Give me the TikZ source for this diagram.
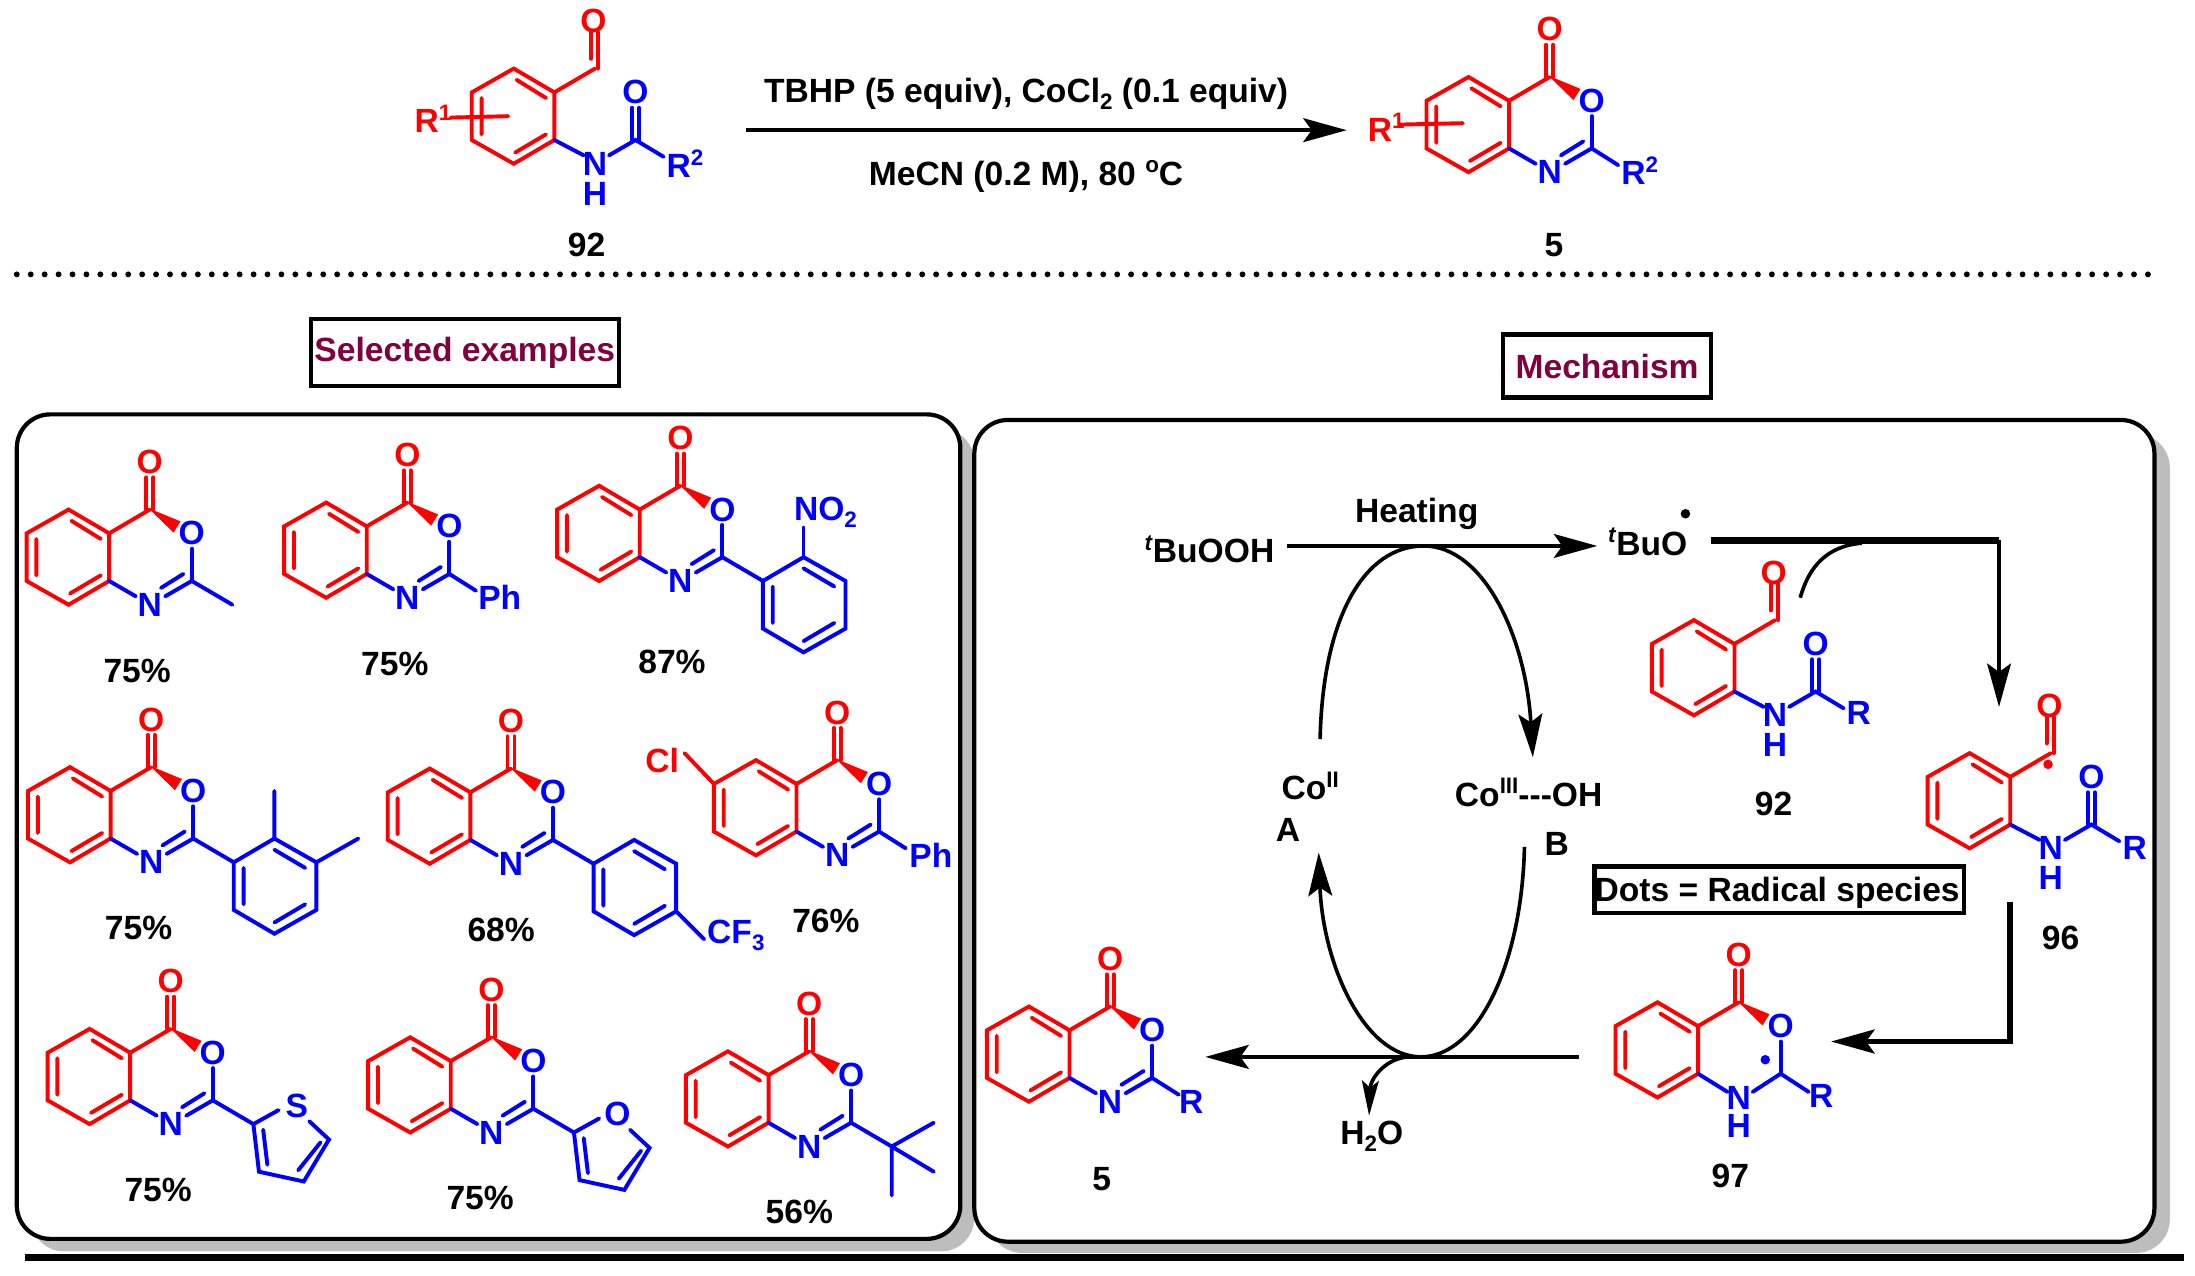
\documentclass[tikz,border=0pt]{standalone}
\usepackage{fontspec}
\setmainfont{Liberation Sans}
\usetikzlibrary{arrows.meta}
\definecolor{maroon1}{HTML}{800040}
\definecolor{shade1}{HTML}{BDBDBD}
\newcommand{\sups}[1]{\raisebox{9pt}{\fontsize{16}{16}\selectfont #1}}
\newcommand{\subsc}[1]{\raisebox{-5pt}{\fontsize{16}{16}\selectfont #1}}
\tikzset{
  rb/.style={draw=red,line width=2.8pt,line join=miter,line cap=round},
  bb/.style={draw=blue,line width=2.8pt,line join=miter,line cap=round},
  lab/.style={inner sep=0pt,font=\fontsize{24}{27}\selectfont\bfseries,text=black},
  rl/.style={lab,text=red},
  bl/.style={lab,text=blue},
  ah/.style={-{Stealth[length=31pt,width=17pt,inset=6pt]}},
  ahs/.style={-{Stealth[length=25pt,width=12pt,inset=5pt]}},
  panel/.style={draw=black,fill=white,line width=3pt,rounded corners=24pt},
  tag/.style={draw=black,line width=3pt,fill=white,inner sep=0pt}
}
\newcommand{\bicycle}[1]{%
  \draw[rb] (0,0)--(-29,-17)--(-59,0)--(-59,34)--(-29,51)--(0,34)--cycle;
  \draw[rb] (-27,-9)--(-6,4) (-6,30)--(-28,43) (-52,4)--(-52,30);
  \draw[rb] (0,0)--(29,-17);
  \fill[red] (28,-18)--(46,-0.5)--(51,-8.5)--cycle;
  \draw[rb] (26.5,-17)--(26.5,-40) (31.5,-17)--(31.5,-40);
  \node[rl] (#1co) at (29,-51) {O};
  \node[bl] (#1o) at (59,0) {O};
  \draw[bb] (59,11)--(59,34);
}
\newcommand{\imine}[1]{%
  \draw[bb] (0,34)--(19,45) (59,34)--(40,45) (53,29)--(37,39);
  \node[bl] (#1n) at (29,51) {N};
}
\newcommand{\mol}[3]{\begin{scope}[shift={(#1,#2)}]\bicycle{#3}\imine{#3}}
\newcommand{\aryl}{%
  \draw[bb] (59,34)--(88,51)--(117,34)--(147,51)--(147,85)--(117,102)--(88,85)--(88,51);
  \draw[bb] (95,55)--(95,81) (117,42)--(139,55) (139,81)--(117,94);
}
\newcommand{\fivering}{%
  \draw[bb] (59,34)--(88,51) (88,51)--(106,41) (128,49)--(142,62)--(124,92)--(92,85)--(88,51);
  \draw[bb] (95,55)--(98,80) (136,64)--(120,84);
}
\newcommand{\subst}[5]{%
  \begin{scope}[shift={(#1,#2)}]
  \draw[rb] (0,0)--(-29,-17)--(-59,0)--(-59,34)--(-29,51)--(0,34)--cycle;
  \draw[rb] (-27,-9)--(-6,4) (-6,30)--(-28,43) (-52,4)--(-52,30);
  \draw[rb] (0,0)--(29,-17);
  \draw[rb] (26,-24)--(26,-43) (31,-17)--(31,-43);
  \node[rl] (#3co) at (28,-51) {O};
  \draw[bb] (0,34)--(21,45) (39,45)--(58,34)--(78,46);
  \draw[bb] (55.5,34)--(55.5,11) (60.5,34)--(60.5,11);
  \node[bl] (#3n) at (29,51) {N};
  \node[bl] (#3h) at (29,72.5) {H};
  \node[bl] (#3oo) at (58,0) {O};
  \node[bl,anchor=west] (#3r) at (80,#5) {#4};
  \end{scope}
}
\begin{document}
\begin{tikzpicture}[x=1pt,y=-1pt]
\useasboundingbox (0,0) rectangle (1568,911.5);
\fill[white] (0,0) rectangle (1568,911.5);

% --- top scheme ---
\subst{396}{66}{sa}{R\sups{2}}{51}
\node[rl,anchor=west] (r1a) at (296,85) {R\sups{1}};
\coordinate (r1as) at (322,84);
\coordinate (r1ae) at (363,83);
\draw[rb] (r1as)--(r1ae);
\begin{scope}[shift={(1078,72)}]
  \bicycle{pa}\imine{pa}
  \draw[bb] (59,34)--(78,46);
  \node[bl,anchor=west] (r2p) at (80,50) {R\sups{2}};
  \node[rl,anchor=west] (r1p) at (-101,19) {R\sups{1}};
  \draw[rb] (-78,17)--(-33,16);
\end{scope}
\coordinate (ma) at (533,93);
\coordinate (mb) at (962,93);
\draw[line width=3pt,ah] (ma)--(mb);
\node[lab] (c1) at (733,67) {TBHP (5 equiv), CoCl\subsc{2} (0.1 equiv)};
\node[lab] (c2) at (733,126) {MeCN (0.2 M), 80 \sups{o}C};
\node[lab] (n92) at (419,175) {92};
\node[lab] (n5) at (1110,175) {5};
\coordinate (da) at (12,196);
\coordinate (db) at (1541,196);
\draw[line width=4.2pt,line cap=round,dash pattern=on 0pt off 9.95pt] (da)--(db);

% --- heading boxes ---
\node[tag,minimum width=220pt,minimum height=48pt,text=maroon1,font=\fontsize{24}{27}\selectfont\bfseries] (hs) at (332,252) {Selected examples};
\node[tag,minimum width=149pt,minimum height=45pt,text=maroon1,font=\fontsize{24}{27}\selectfont\bfseries] (hm) at (1148,261.5) {Mechanism};

% --- panels ---
\fill[shade1,rounded corners=24pt] (22,306) rectangle (696,894);
\draw[panel] (12,296) rectangle (686,885);
\fill[shade1,rounded corners=24pt] (706,310) rectangle (1550,895);
\draw[panel] (696,300) rectangle (1539,887);
\coordinate (ba) at (18,898);
\coordinate (bb) at (1560,898);
\draw[line width=5pt] (ba)--(bb);

% --- examples ---
\mol{78}{381}{m1}
  \draw[bb] (59,34)--(88,51);
\end{scope}
\node[lab] (y1) at (98,479) {75\%};

\mol{262}{376}{m2}
  \draw[bb] (59,34)--(78,46);
  \node[bl] (m2s) at (95,51) {Ph};
\end{scope}
\node[lab] (y2) at (282,474) {75\%};

\mol{457}{364}{m3}
  \aryl
  \draw[bb] (117,34)--(117,13);
  \node[bl,anchor=west] (m3s) at (110,2) {NO\subsc{2}};
\end{scope}
\node[lab] (y3) at (480,473) {87\%};

\mol{79}{565}{m4}
  \aryl
  \draw[bb] (117,34)--(117,0) (147,51)--(177,34);
\end{scope}
\node[lab] (y4) at (99,663) {75\%};

\mol{336}{566}{m5}
  \aryl
  \draw[bb] (147,85)--(167,105);
  \node[bl,anchor=west] (m5s) at (169,102) {CF\subsc{3}};
\end{scope}
\node[lab] (y5) at (358,664) {68\%};

\mol{569}{560}{m6}
  \draw[rb] (-59,0)--(-80,-22);
  \node[rl] (m6c) at (-96,-17) {Cl};
  \draw[bb] (59,34)--(78,46);
  \node[bl] (m6s) at (96,51) {Ph};
\end{scope}
\node[lab] (y6) at (590,658) {76\%};

\mol{93}{752}{m7}
  \fivering
  \node[bl] (m7s) at (119,38) {S};
\end{scope}
\node[lab] (y7) at (113,850) {75\%};

\mol{322}{758}{m8}
  \fivering
  \node[bl] (m8s) at (119,38) {O};
\end{scope}
\node[lab] (y8) at (343,856) {75\%};

\mol{549}{768}{m9}
  \draw[bb] (59,34)--(88,51)--(118,34) (88,51)--(118,69) (88,51)--(88,86);
\end{scope}
\node[lab] (y9) at (571,866) {56\%};

% --- mechanism ---
\node[lab] (tb) at (864,392.5) {\sups{\textit{t}}BuOOH};
\node[lab] (heat) at (1012,367) {Heating};
\node[lab] (tbo) at (1177,387) {\sups{\textit{t}}BuO};
\fill (1204,367) circle (3.4pt);
\coordinate (h1) at (919,390);
\coordinate (h2) at (1141,390);
\draw[line width=2.8pt,ah] (h1)--(h2);
\coordinate (t1) at (1222,386);
\coordinate (t2) at (1428,386);
\coordinate (t3) at (1428,505);
\draw[line width=4.5pt] (t1)--(t2);
\draw[line width=2.4pt,ah] (t2)--(t3);
\coordinate (q1) at (1286,427);
\coordinate (q2) at (1330,388);
\draw[line width=2.6pt] (q1) .. controls (1292,405) and (1305,390) .. (q2);

\node[lab] (coa) at (936,561.5) {Co\sups{II}};
\node[lab] (a) at (920,593) {A};
\node[lab] (cob) at (1092,566) {Co\sups{III}{-}{-}{-}OH};
\node[lab] (b) at (1112,603) {B};
\coordinate (cy1) at (943,528);
\coordinate (cyt) at (1017,390);
\coordinate (cy2) at (1095,541);
\draw[line width=2.6pt] (cy1) .. controls (945,440) and (975,390) .. (cyt);
\draw[line width=2.6pt,ah] (cyt) .. controls (1060,390) and (1090,455) .. (cy2);
\coordinate (cy3) at (1089,605);
\coordinate (cyb) at (1015,755);
\coordinate (cy4) at (942,609);
\draw[line width=2.6pt] (cy3) .. controls (1087,690) and (1055,755) .. (cyb);
\draw[line width=2.6pt,ah] (cyb) .. controls (975,755) and (945,690) .. (cy4);

\coordinate (e1) at (1128,755);
\coordinate (e2) at (861,755);
\draw[line width=3.2pt,ah] (e1)--(e2);
\coordinate (w1) at (1006,755);
\coordinate (w2) at (978,797);
\draw[line width=2.6pt,ahs] (w1) .. controls (990,756) and (979,770) .. (w2);
\node[lab] (wat) at (980,812) {H\subsc{2}O};

\subst{1239}{460}{sb}{R}{49}
\node[lab] (n92b) at (1267,574) {92};

\subst{1436}{555}{sc}{R}{51}
\fill[red] (1463,546) circle (3.4pt);
\node[lab] (n96) at (1472,670) {96};

\node[tag,minimum width=264pt,minimum height=33pt] (dots) at (1271,635.5) {};
\node[lab] (dotst) at (1269.5,637.5) {Dots = Radical species};

\coordinate (k1) at (1436,644);
\coordinate (k2) at (1436,744);
\coordinate (k3) at (1308,744);
\draw[line width=4pt,ah,line join=miter] (k1)--(k2)--(k3);

\begin{scope}[shift={(1213,733)}]
  \bicycle{mb}
  \draw[bb] (0,34)--(21,47) (39,47)--(59,34)--(79,47);
  \node[bl] (mbn) at (29,51) {N};
  \node[bl] (mbh) at (29,71.5) {H};
  \node[bl] (mbr) at (88,50) {R};
  \fill[blue] (48,24) circle (3.4pt);
\end{scope}
\node[lab] (n97) at (1236,840) {97};

\begin{scope}[shift={(764,736)}]
  \bicycle{mc}\imine{mc}
  \draw[bb] (59,34)--(78,46);
  \node[bl] (mcr) at (87,51) {R};
\end{scope}
\node[lab] (n5b) at (787,842) {5};
\end{tikzpicture}
\end{document}
